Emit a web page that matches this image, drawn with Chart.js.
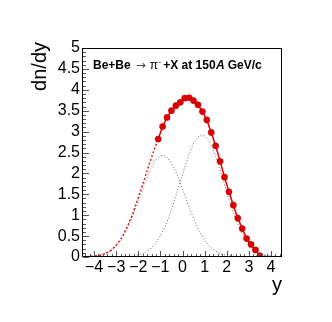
<!DOCTYPE html>
<html>
<head>
<meta charset="utf-8">
<script src="https://cdn.jsdelivr.net/npm/chart.js@4/dist/chart.umd.min.js"></script>
<style>
  html, body { margin: 0; padding: 0; background: #fff; }
</style>
</head>
<body>
<canvas id="chart" width="332" height="322"></canvas>
<script>
// measured points (rapidity, dn/dy)
const pointY = [-1.1, -0.9, -0.7, -0.5, -0.3, -0.1, 0.1, 0.3, 0.5, 0.7, 0.9, 1.1,
                1.3, 1.5, 1.7, 1.9, 2.1, 2.3, 2.5, 2.7, 2.9, 3.1, 3.3, 3.5];
const pointDn = [2.82, 3.12, 3.34, 3.50, 3.62, 3.70, 3.80, 3.81, 3.74, 3.64, 3.48, 3.28,
                 2.98, 2.66, 2.29, 1.91, 1.56, 1.24, 0.93, 0.68, 0.44, 0.30, 0.17, 0.03];

// fit extension outside the data (dotted red)
const fitLeftY = [-4.5, -4.25, -4, -3.75, -3.5, -3.25, -3, -2.75, -2.5, -2.25, -2, -1.75, -1.5, -1.25, -1.1];
const fitLeftDn = [0.00, 0.01, 0.02, 0.04, 0.08, 0.15, 0.28, 0.46, 0.72, 1.04, 1.42, 1.82, 2.23, 2.61, 2.82];
const fitRightY = [3.5, 3.75, 4, 4.25, 4.5];
const fitRightDn = [0.03, 0.02, 0.01, 0.00, 0.00];

// the two components (dotted grey)
const curveY = [-4.5, -4.25, -4, -3.75, -3.5, -3.25, -3, -2.75, -2.5, -2.25, -2, -1.75, -1.5, -1.25,
                -1, -0.75, -0.5, -0.25, 0, 0.25, 0.5, 0.75, 1, 1.25, 1.5, 1.75, 2, 2.25, 2.5,
                2.75, 3, 3.25, 3.5, 3.75, 4, 4.25, 4.5];
const compLeft = [0.00, 0.01, 0.02, 0.04, 0.08, 0.15, 0.27, 0.44, 0.68, 0.98, 1.33, 1.70, 2.04, 2.30,
                  2.43, 2.41, 2.25, 1.98, 1.63, 1.26, 0.92, 0.63, 0.40, 0.24, 0.14, 0.07, 0.04, 0.02, 0.01,
                  0, 0, 0, 0, 0, 0, 0, 0];
const compRight = [0, 0, 0, 0, 0, 0, 0, 0, 0.01, 0.02, 0.05, 0.09, 0.17, 0.30,
                   0.50, 0.77, 1.13, 1.54, 1.98, 2.39, 2.72, 2.90, 2.90, 2.73, 2.41, 2.00, 1.56, 1.14, 0.79,
                   0.51, 0.31, 0.18, 0.09, 0.05, 0.02, 0.01, 0.00];

// axis labels
const xTicks = [-4, -3, -2, -1, 0, 1, 2, 3, 4];
const yTicks = [0, 0.5, 1, 1.5, 2, 2.5, 3, 3.5, 4, 4.5, 5];

const FONT = '"Liberation Sans", Arial, Helvetica, sans-serif';
const xy = (xs, ys) => xs.map((v, i) => ({ x: v, y: ys[i] }));

const datasets = [
    {
        data: xy(pointY, pointDn),
        showLine: true,
        borderColor: '#e00000',
        borderWidth: 1.5,
        backgroundColor: '#e00000',
        pointRadius: 3.1,
        pointBorderWidth: 0.5,
        pointBorderColor: '#b00000',
    },
    {
        data: xy(fitLeftY, fitLeftDn),
        showLine: true,
        borderColor: '#e00000',
        borderWidth: 1.3,
        borderDash: [2, 2],
        pointRadius: 0,
    },
    {
        data: xy(fitRightY, fitRightDn),
        showLine: true,
        borderColor: '#e00000',
        borderWidth: 1.3,
        borderDash: [2, 2],
        pointRadius: 0,
    },
    {
        data: xy(curveY, compLeft),
        showLine: true,
        borderColor: '#666',
        borderWidth: 1,
        borderDash: [1, 2],
        pointRadius: 0,
    },
    {
        data: xy(curveY, compRight),
        showLine: true,
        borderColor: '#666',
        borderWidth: 1,
        borderDash: [1, 2],
        pointRadius: 0,
    },
];

// frame + ROOT style inner ticks + y title placed like ROOT does
const frameTicks = {
    id: 'frameTicks',
    afterDraw(chart) {
        const { ctx, chartArea: a, scales: { x, y } } = chart;
        ctx.save();
        ctx.strokeStyle = '#555';
        ctx.lineWidth = 1;
        ctx.beginPath();
        for (let i = -22; i <= 22; i++) {
            const px = Math.round(x.getPixelForValue(i * 0.2)) + 0.5;
            const len = i % 5 === 0 ? 6 : 3;
            ctx.moveTo(px, a.bottom);
            ctx.lineTo(px, a.bottom - len);
        }
        for (let i = 0; i <= 50; i++) {
            const py = Math.round(y.getPixelForValue(i * 0.1)) + 0.5;
            const len = i % 5 === 0 ? 6 : 3;
            ctx.moveTo(a.left, py);
            ctx.lineTo(a.left + len, py);
        }
        ctx.stroke();
        ctx.strokeStyle = '#000';
        ctx.strokeRect(Math.round(a.left) - 0.5, Math.round(a.top) + 0.5,
            Math.round(a.right - a.left), Math.round(a.bottom - a.top) - 1);

        ctx.translate(40, a.top - 6);
        ctx.rotate(-Math.PI / 2);
        ctx.font = '20px ' + FONT;
        ctx.fillStyle = '#000';
        ctx.textAlign = 'right';
        ctx.textBaseline = 'middle';
        ctx.fillText('dn/dy', 0, 0);
        ctx.restore();
    }
};

// "Be+Be -> pi- +X at 150A GeV/c"
const label = {
    id: 'label',
    afterDraw(chart) {
        const { ctx } = chart;
        const parts = [
            { t: 'Be+Be', f: 'bold 12px ' + FONT, gap: 5 },
            { t: '\u2192', f: '12px "DejaVu Sans", ' + FONT, gap: 4, c: '#444' },
            { t: '\u03c0', f: '12px ' + FONT, gap: 0.5 },
            { t: '-', f: '8px ' + FONT, gap: 2, dy: -5 },
            { t: '+X at 150', f: 'bold 12px ' + FONT, gap: 0.5 },
            { t: 'A', f: 'italic bold 12px ' + FONT, gap: 3 },
            { t: 'GeV/c', f: 'bold 12px ' + FONT, gap: 0 },
        ];
        let x = 93;
        const base = 69;
        ctx.save();
        ctx.textBaseline = 'alphabetic';
        for (const p of parts) {
            ctx.font = p.f;
            ctx.fillStyle = p.c || '#000';
            ctx.fillText(p.t, x, base + (p.dy || 0));
            x += ctx.measureText(p.t).width + p.gap;
        }
        ctx.restore();
    }
};

new Chart('chart', {
    type: 'scatter',
    data: { datasets },
    options: {
        responsive: false,
        animation: false,
        layout: { padding: { left: 0, right: 50, top: 48, bottom: 0 } },
        plugins: {
            legend: { display: false },
            tooltip: { enabled: false },
        },
        scales: {
            x: {
                type: 'linear',
                min: -4.5,
                max: 4.5,
                grid: { display: false, drawTicks: false },
                border: { display: false },
                afterBuildTicks: s => { s.ticks = xTicks.map(v => ({ value: v })); },
                ticks: {
                    autoSkip: false,
                    maxRotation: 0,
                    minRotation: 0,
                    padding: 1,
                    color: '#000',
                    font: { family: FONT, size: 16 },
                    callback: v => (v < 0 ? '\u2212' : '') + Math.abs(v),
                },
                title: {
                    display: true,
                    text: 'y',
                    align: 'end',
                    color: '#000',
                    font: { family: FONT, size: 20, lineHeight: 1 },
                    padding: { top: 0, bottom: 27 },
                },
                afterFit: s => { s.height = 65; },
            },
            y: {
                min: 0,
                max: 5,
                grid: { display: false, drawTicks: false },
                border: { display: false },
                afterBuildTicks: s => { s.ticks = yTicks.map(v => ({ value: v })); },
                ticks: {
                    autoSkip: false,
                    padding: 3,
                    color: '#000',
                    font: { family: FONT, size: 16 },
                    callback: v => String(Math.round(v * 10) / 10),
                },
                afterFit: s => { s.width = 83; },
            },
        },
    },
    plugins: [frameTicks, label],
});
</script>
</body>
</html>
